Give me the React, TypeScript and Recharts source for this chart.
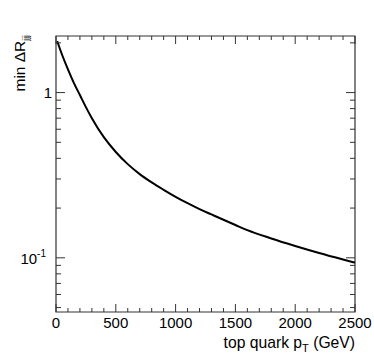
import React from "react";
import { LineChart, Line, XAxis, YAxis, ReferenceArea } from "recharts";

const ptValues = [10, 50, 100, 150, 200, 250, 300, 400, 500, 600, 700, 800, 900, 1000, 1100, 1200, 1300, 1400, 1500, 1600, 1800, 2000, 2200, 2400, 2500];
const minDeltaR = [2.05, 1.7, 1.38, 1.14, 0.966, 0.817, 0.7, 0.537, 0.437, 0.369, 0.321, 0.286, 0.258, 0.234, 0.214, 0.197, 0.183, 0.17, 0.158, 0.147, 0.131, 0.118, 0.107, 0.0977, 0.0935];

const xTicks = Array.from({ length: 26 }, (_, i) => i * 100);
const xMajor = [0, 500, 1000, 1500, 2000, 2500];
const yTicks = [0.05, 0.06, 0.07, 0.08, 0.09, 0.1, 0.2, 0.3, 0.4, 0.5, 0.6, 0.7, 0.8, 0.9, 1, 2];
const yMajor = [0.1, 1];
const yDomain: [number, number] = [0.047, 2.2];
const xDomain: [number, number] = [0, 2500];

const data = ptValues.map((x, i) => ({ x, v: minDeltaR[i] }));

const W = 374;
const H = 359;
const M = { top: 36, right: 19, left: 0, bottom: 0 };
const YW = 56;
const XH = 47;
const PW = W - YW - M.right;
const PH = H - M.top - XH;

const FONT = "'Liberation Sans', Arial, Helvetica, sans-serif";
const AX = "#333";

function XTick(props: any) {
  const { x, y, payload } = props;
  const major = xMajor.includes(payload.value);
  const len = major ? 8 : 4;
  return (
    <g>
      <line x1={x} y1={y} x2={x} y2={y - len} stroke={AX} strokeWidth={1} />
      <line x1={x} y1={y - PH} x2={x} y2={y - PH + len} stroke={AX} strokeWidth={1} />
      {major && (
        <text x={x} y={y + 16} textAnchor="middle" fontSize={15} fontFamily={FONT} fill="#000">
          {payload.value}
        </text>
      )}
      {payload.value === xDomain[1] && (
        <text x={x} y={y + 36} textAnchor="end" fontSize={15.7} fontFamily={FONT} fill="#000">
          top quark p
          <tspan fontSize={11} dy={4}>T</tspan>
          <tspan dy={-4}> (GeV)</tspan>
        </text>
      )}
    </g>
  );
}

function YTick(props: any) {
  const { x, y, payload } = props;
  const v = payload.value;
  const major = yMajor.some((m) => Math.abs(m - v) < 1e-9);
  const len = major ? 9 : 5;
  return (
    <g>
      <line x1={x} y1={y} x2={x + len} y2={y} stroke={AX} strokeWidth={1} />
      <line x1={x + PW} y1={y} x2={x + PW - len} y2={y} stroke={AX} strokeWidth={1} />
      {major && Math.abs(v - 1) < 1e-9 && (
        <text x={x - 4} y={y + 5} textAnchor="end" fontSize={15} fontFamily={FONT} fill="#000">
          1
        </text>
      )}
      {major && Math.abs(v - 0.1) < 1e-9 && (
        <text x={x - 10} y={y + 6} textAnchor="end" fontSize={15} fontFamily={FONT} fill="#000">
          10
          <tspan fontSize={10} dy={-7}>-1</tspan>
        </text>
      )}
    </g>
  );
}

function YTitle() {
  const x = 25;
  const y = M.top - 1;
  return (
    <svg width={W} height={H} style={{ position: "absolute", left: 0, top: 0, pointerEvents: "none" }}>
      <text x={x} y={y} transform={`rotate(-90 ${x} ${y})`} textAnchor="end" fontSize={15.5} fontFamily={FONT} fill="#000">
        min ΔR
        <tspan fontSize={8.5} dy={4}>jjj</tspan>
      </text>
    </svg>
  );
}

export default function App() {
  return (
    <div style={{ position: "absolute", left: 0, top: 0, width: W, height: H, background: "#fff" }}>
      <LineChart width={W} height={H} data={data} margin={M}>
        <XAxis
          dataKey="x"
          type="number"
          domain={xDomain}
          ticks={xTicks}
          interval={0}
          tickSize={0}
          tickMargin={0}
          tickLine={false}
          axisLine={false}
          height={XH}
          tick={XTick}
          allowDataOverflow
        />
        <YAxis
          type="number"
          scale="log"
          domain={yDomain}
          ticks={yTicks}
          interval={0}
          tickSize={0}
          tickMargin={0}
          tickLine={false}
          axisLine={false}
          width={YW}
          tick={YTick}
          allowDataOverflow
        />
        <ReferenceArea x1={xDomain[0]} x2={xDomain[1]} y1={yDomain[0]} y2={yDomain[1]} fill="none" stroke={AX} strokeWidth={1.2} />
        <Line dataKey="v" type="monotone" stroke="#000" strokeWidth={2} dot={false} isAnimationActive={false} />
      </LineChart>
      <YTitle />
    </div>
  );
}
